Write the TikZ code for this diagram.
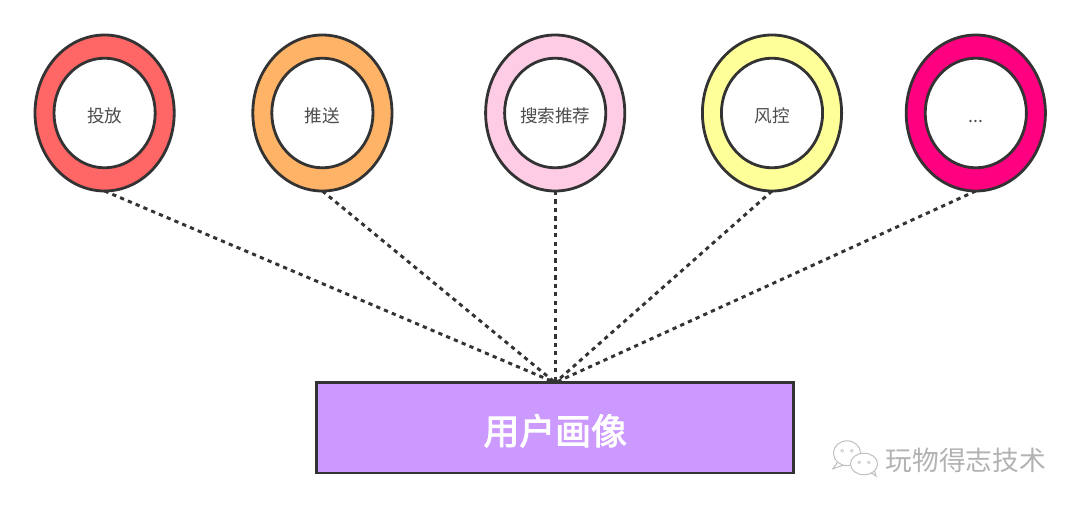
\documentclass[tikz,border=0pt]{standalone}
\usepackage{fontspec}
\setmainfont{Noto Sans CJK SC}
\newfontfamily\barfont[FakeBold=2.5]{Noto Sans CJK SC}
\usepackage{xcolor}
\usetikzlibrary{shapes.geometric, positioning}
\definecolor{inkgray}{HTML}{333333}
\definecolor{ringred}{HTML}{FF6666}
\definecolor{ringorange}{HTML}{FFB366}
\definecolor{ringpink}{HTML}{FFCCE6}
\definecolor{ringyellow}{HTML}{FFFF99}
\definecolor{ringmagenta}{HTML}{FF0080}
\definecolor{barpurple}{HTML}{CC99FF}
\tikzset{
  ring/.style = {ellipse, draw=inkgray, line width=2pt, outer sep=0pt, inner sep=0pt,
    minimum width=3.48cm, minimum height=3.9cm},
  hole/.style = {ellipse, draw=inkgray, fill=white, line width=2pt, outer sep=0pt, inner sep=0pt,
    minimum width=2.53cm, minimum height=2.74cm, text=black!70, text height=14.2pt, text depth=1pt,
    font=\fontsize{12.5}{15}\selectfont},
  bar/.style = {rectangle, draw=inkgray, line width=2pt, fill=barpurple, outer sep=0pt,
    minimum width=11.93cm, minimum height=2.26cm, text=white, text height=27pt, text depth=3.4pt,
    font=\fontsize{25.5}{30}\selectfont\barfont},
  link/.style = {inkgray, line width=2.1pt, dash pattern=on 3pt off 3pt},
  bubble/.style = {ellipse, draw=black!25, line width=0.7pt, fill=white, inner sep=0pt},
  eye/.style = {circle, draw=black!25, line width=0.4pt, inner sep=0pt, minimum size=0.07cm},
  wmark/.style = {text=black!30, font=\fontsize{19}{23}\selectfont},
}
\begin{document}
\begin{tikzpicture}
  \useasboundingbox (0,0) rectangle (27,-12.7);

  % Outer rings
  \node[ring, fill=ringred] (r1) at (2.615,-2.825) {};
  \node[ring, fill=ringorange, right=1.965cm of r1] (r2) {};
  \node[ring, fill=ringpink, right=2.34cm of r2] (r3) {};
  \node[ring, fill=ringyellow, right=1.94cm of r3] (r4) {};
  \node[ring, fill=ringmagenta, right=1.615cm of r4] (r5) {};

  % Inner labels
  \node[hole] (h1) at (r1) {投放};
  \node[hole] (h2) at (r2) {推送};
  \node[hole] (h3) at (r3) {搜索推荐};
  \node[hole] (h4) at (r4) {风控};
  \node[hole] (h5) at (r5) {...};

  % Profile bar
  \node[bar, below=4.79cm of r3] (base) {用户画像};

  % Links
  \draw[link] (r1.south) -- (base.north);
  \draw[link] (r2.south) -- (base.north);
  \draw[link] (r3.south) -- (base.north);
  \draw[link] (r4.south) -- (base.north);
  \draw[link] (r5.south) -- (base.north);

  % Watermark
  \node[wmark, anchor=west] (wm) at (22.02,-11.5) {玩物得志技术};
  \draw[bubble] (20.98,-11.5) -- (20.82,-11.72) -- (21.17,-11.6);
  \node[bubble, minimum width=0.68cm, minimum height=0.62cm] (b1) at (21.175,-11.33) {};
  \draw[bubble] (21.72,-11.78) -- (21.9,-11.9) -- (21.84,-11.68);
  \node[bubble, minimum width=0.68cm, minimum height=0.54cm] (b2) at (21.6,-11.6) {};
  \node[eye] at ([xshift=-0.12cm, yshift=0.06cm]b1.center) {};
  \node[eye] at ([xshift=0.12cm, yshift=0.06cm]b1.center) {};
  \node[eye] at ([xshift=-0.12cm, yshift=0.04cm]b2.center) {};
  \node[eye] at ([xshift=0.12cm, yshift=0.04cm]b2.center) {};
\end{tikzpicture}
\end{document}
